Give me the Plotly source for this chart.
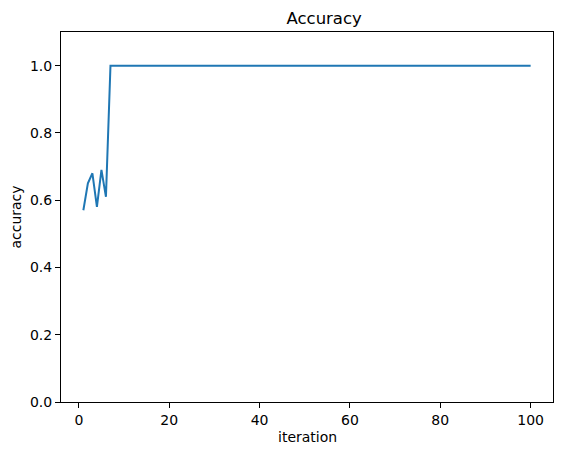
import plotly.graph_objects as go

iterations = list(range(1, 101))
accuracy = [0.57, 0.65, 0.68, 0.58, 0.69, 0.61] + [1.0] * 94

fig = go.Figure()
fig.add_trace(go.Scatter(x=iterations, y=accuracy, mode="lines",
                         line=dict(color="#1f77b4", width=2)))

axis_common = dict(showline=True, linecolor="black", linewidth=1, mirror=True,
                   ticks="outside", ticklen=5, tickcolor="black", showgrid=False,
                   zeroline=False, automargin=False,
                   tickfont=dict(family="DejaVu Sans", size=14, color="black"))

fig.update_layout(
    width=559, height=447,
    margin=dict(l=53, r=14, t=24, b=53),
    paper_bgcolor="white", plot_bgcolor="white",
    showlegend=False,
    title=dict(text="Accuracy", x=(53 + 545) / 2 / 559, xref="paper", xanchor="center", y=1 - 10 / 447, yanchor="middle",
               font=dict(family="DejaVu Sans", size=16.5, color="black")),
    xaxis=dict(range=[-3.95, 104.95], tickvals=[0, 20, 40, 60, 80, 100], **axis_common),
    yaxis=dict(range=[0, 1.1], tickvals=[0, 0.2, 0.4, 0.6, 0.8, 1.0], tickformat=".1f",
               title=dict(text="accuracy", font=dict(family="DejaVu Sans", size=14, color="black")),
               **axis_common),
    annotations=[dict(text="iteration", xref="paper", yref="paper", x=0.5, y=0,
                      yshift=-35, xanchor="center", yanchor="middle", showarrow=False,
                      font=dict(family="DejaVu Sans", size=14, color="black"))],
)
fig.write_html("out.html")
